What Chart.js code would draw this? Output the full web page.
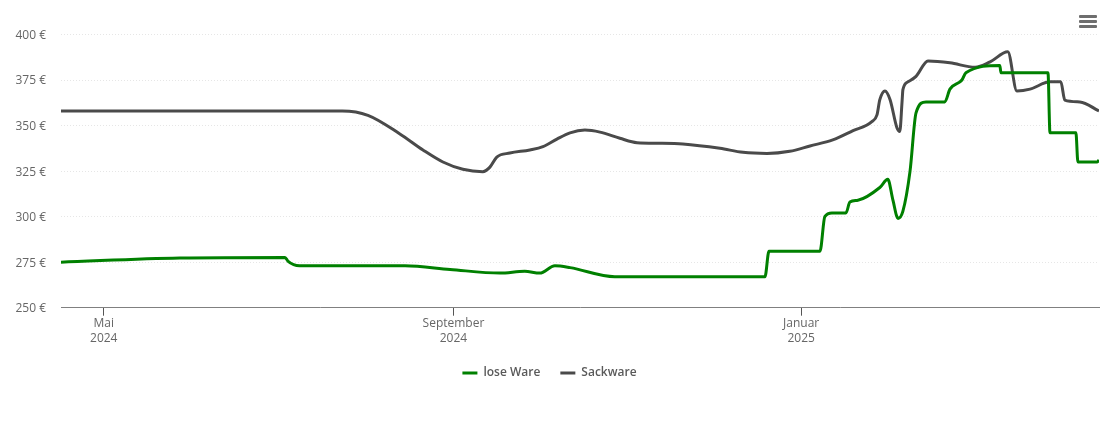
<!DOCTYPE html>
<html>
<head>
<meta charset="utf-8">
<title>Preisentwicklung</title>
<script src="https://cdn.jsdelivr.net/npm/chart.js@4/dist/chart.umd.min.js"></script>
<style>
  html, body { margin: 0; padding: 0; background: #fff; overflow: hidden; }
  #wrap { position: relative; width: 1110px; height: 422px; }
  #menu { position: absolute; left: 1079px; top: 15px; width: 18px; }
  #menu span { display: block; height: 3px; margin-bottom: 2px; background: #6e6e6e; border-radius: 1px; }
</style>
</head>
<body>
<div id="wrap">
  <canvas id="preise" width="1110" height="422"></canvas>
  <div id="menu"><span></span><span></span><span></span></div>
</div>
<script>
// x values are days counted from 1 May 2024
const tickDays = [0.3, 123, 245];
const tickLabels = [["Mai", "2024"], ["September", "2024"], ["Januar", "2025"]];
const yTicks = [250, 275, 300, 325, 350, 375, 400];

const loseDays = [-14.7, 27, 63.9, 64.9, 69, 106, 121.8, 139.3, 148, 153.3, 158.6, 163.9, 179.6, 232.3, 233.7, 251.6, 253.3, 255.8, 260.7, 262.1, 264.9, 272.6, 275.4, 277.2, 279, 280.7, 283.2, 285.3, 288.8, 295.4, 297.2, 301.4, 302.8, 314.7, 315.1, 331.6, 332.3, 341.4, 342.1, 348.8, 349.5];
const losePrices = [275, 277.3, 277.6, 275.6, 273, 273, 271, 269, 270, 269, 273, 272, 267, 267, 281, 281, 300, 302, 302, 308, 309, 316, 320.5, 309, 299, 303, 325, 357, 363, 363, 370, 375, 379, 383, 379, 379, 346, 346, 330, 330, 331];

const sackDays = [-14.7, 84, 93, 104.2, 112.3, 119.3, 126.3, 133.3, 135.8, 138.2, 142.8, 149.8, 154.4, 159.3, 163.9, 169.1, 174.4, 181.4, 187.4, 195.4, 203.5, 216.5, 224.6, 233, 241, 248.1, 256.1, 263.2, 269.8, 271.6, 272.6, 274.4, 276.2, 278.6, 279.6, 280.4, 280.7, 282.5, 285.3, 289.5, 297.2, 306, 311.3, 317.5, 320.7, 325.3, 332.3, 336.1, 337.5, 342.8, 349.5];
const sackPrices = [358, 358, 355.6, 345.4, 336.6, 330, 326, 324.7, 327.2, 332.7, 334.9, 336.6, 338.4, 342.6, 346, 347.5, 346.4, 343, 340.6, 340.3, 339.9, 337.5, 335.3, 334.7, 335.9, 338.8, 342.1, 347.2, 352.2, 355.9, 364.2, 369, 364.2, 348.8, 346.7, 363.1, 369.7, 374, 377, 385.5, 384.5, 382, 385, 390.5, 369, 370, 374, 374, 364, 363, 358];

const toPoints = (xs, ys) => xs.map((x, i) => ({ x: x, y: ys[i] }));
const font = { family: "'Open Sans'", size: 12 };

new Chart(document.getElementById("preise"), {
  type: "line",
  data: {
    datasets: [
      {
        label: "lose Ware",
        data: toPoints(loseDays, losePrices),
        borderColor: "#008000",
        backgroundColor: "#008000",
      },
      {
        label: "Sackware",
        data: toPoints(sackDays, sackPrices),
        borderColor: "#4a4a4a",
        backgroundColor: "#4a4a4a",
      },
    ],
  },
  options: {
    responsive: false,
    animation: false,
    layout: { padding: { top: 34.5, right: 11, bottom: 33, left: 0 } },
    elements: {
      point: { radius: 0, borderWidth: 3 },
      line: { borderWidth: 3, cubicInterpolationMode: "monotone" },
    },
    plugins: {
      tooltip: { enabled: false },
      legend: {
        position: "bottom",
        labels: {
          usePointStyle: true,
          pointStyle: "line",
          pointStyleWidth: 15,
          color: "#5a5a5a",
          font: { family: "'Open Sans'", size: 12, weight: 600 },
          padding: 20,
        },
      },
    },
    scales: {
      x: {
        type: "linear",
        min: -14.7,
        max: 349.5,
        afterBuildTicks: (scale) => {
          scale.ticks = tickDays.map((d) => ({ value: d }));
        },
        afterFit: (scale) => {
          scale.height = 39.3;
        },
        ticks: {
          autoSkip: false,
          maxRotation: 0,
          color: "#666",
          font: font,
          padding: 1,
          callback: (value) => tickLabels[tickDays.indexOf(value)],
        },
        border: { color: "#808080", width: 1 },
        grid: { drawOnChartArea: false, tickLength: 8, tickColor: "#555" },
      },
      y: {
        min: 250,
        max: 400,
        afterBuildTicks: (scale) => {
          scale.ticks = yTicks.map((v) => ({ value: v }));
        },
        afterFit: (scale) => {
          scale.width = 61;
        },
        ticks: {
          color: "#666",
          font: font,
          padding: 15,
          labelOffset: 1,
          callback: (value) => value + " €",
        },
        border: { display: false, dash: [1, 2] },
        grid: { color: "#e6e6e6", drawTicks: false, tickLength: 0 },
      },
    },
  },
});
</script>
</body>
</html>
